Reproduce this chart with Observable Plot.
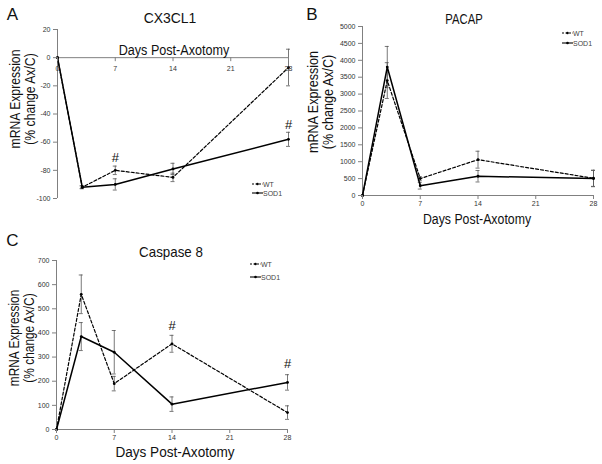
<!DOCTYPE html>
<html><head><meta charset="utf-8">
<script src="https://cdn.jsdelivr.net/npm/d3@7"></script>
<script src="https://cdn.jsdelivr.net/npm/@observablehq/plot@0.6"></script>
<style>
body{margin:0;background:#fff;}
#fig{position:relative;width:602px;height:464px;font-family:"Liberation Sans",Arial,sans-serif;overflow:hidden;background:#fff;}
.t{position:absolute;white-space:nowrap;line-height:1;color:#111;}
.lg{position:absolute;white-space:nowrap;line-height:1;font-size:7px;color:#444;display:flex;align-items:center;}
</style></head><body><div id="fig"></div>
<script>
// ---- shared ----
const days = [0, 3, 7, 14, 28];
const xTicks = [0, 7, 14, 21, 28];
const seriesNames = ["WT", "SOD1"];
const xTitle = "Days Post-Axotomy";
const yTitle1 = "mRNA Expression";
const yTitle2 = "(% change Ax/C)";

// ---- Panel A: CX3CL1 ----
const cxWT = [0, -92, -80, -85, -7];
const cxWTerr = [0, 1, 3, 3, 13];
const cxSOD = [0, -92, -90, -79, -58];
const cxSODerr = [0, 1, 4, 4, 5];
const cxYTicks = [20, 0, -20, -40, -60, -80, -100];
const cxHashDays = [7, 28];
const cxHashVals = [-71, -47.5];

// ---- Panel B: PACAP ----
const paWT = [0, 3400, 500, 1060, 510];
const paWTerr = [0, 530, 60, 250, 240];
const paSOD = [0, 3800, 290, 570, 500];
const paSODerr = [0, 610, 100, 170, 240];
const paYTicks = [0, 500, 1000, 1500, 2000, 2500, 3000, 3500, 4000, 4500, 5000];

// ---- Panel C: Caspase 8 ----
const caWT = [0, 560, 190, 355, 70];
const caWTerr = [0, 80, 30, 35, 28];
const caSOD = [0, 385, 320, 105, 195];
const caSODerr = [0, 58, 90, 30, 32];
const caYTicks = [0, 100, 200, 300, 400, 500, 600, 700];
const caHashDays = [14, 28];
const caHashVals = [431, 273];

const fig = document.getElementById("fig");
const AX = "#808080", TXT = "#333", EB = "#555";
const FONT = '"Liberation Sans", Arial, sans-serif';

function rows(vals, errs, name) {
  return days.map((d, i) => ({day: d, value: vals[i], err: errs[i], series: name}));
}
function hashRows(ds, vs) { return ds.map((d, i) => ({day: d, value: vs[i]})); }

function panel({wt, sod, hash, yDomain, yTicks, left, top, width, height, mt, mr, mb, ml, topAxis}) {
  const all = wt.concat(sod);
  const eb = all.filter(d => d.err > 0);
  const marks = [
    Plot.ruleX([0], {stroke: AX, strokeWidth: 1}),
    Plot.ruleY([0], {stroke: AX, strokeWidth: 1}),
    Plot.ruleX(eb, {x: "day", y1: d => d.value - d.err, y2: d => d.value + d.err, stroke: EB, strokeWidth: 0.8}),
    Plot.ruleY(eb, {y: d => d.value + d.err, x1: "day", x2: "day", insetLeft: -2, insetRight: -2, stroke: EB, strokeWidth: 0.8}),
    Plot.ruleY(eb, {y: d => d.value - d.err, x1: "day", x2: "day", insetLeft: -2, insetRight: -2, stroke: EB, strokeWidth: 0.8}),
    Plot.line(wt, {x: "day", y: "value", stroke: "#000", strokeWidth: 1.2, strokeDasharray: "3,2"}),
    Plot.line(sod, {x: "day", y: "value", stroke: "#000", strokeWidth: 1.5}),
    Plot.dot(all, {x: "day", y: "value", r: 1.4, fill: "#000"}),
    Plot.axisY({ticks: yTicks, tickSize: 4, tickPadding: 3, tickFormat: d => String(d), fontSize: 7, fill: TXT, stroke: AX, label: null})
  ];
  if (hash) marks.push(Plot.text(hash, {x: "day", y: "value", text: () => "#", fontSize: 13, fill: "#111"}));
  if (topAxis) {
    marks.push(Plot.ruleX(xTicks, {x: d => d, y1: () => 0, y2: () => 0, insetBottom: -4, stroke: AX}));
    marks.push(Plot.text(xTicks, {x: d => d, y: () => 0, dy: 11, text: d => String(d), fontSize: 7, fill: TXT}));
  } else {
    marks.push(Plot.axisX({ticks: xTicks, tickSize: 4, tickPadding: 2, tickFormat: d => String(d), fontSize: 7, fill: TXT, stroke: AX, label: null}));
  }
  const svg = Plot.plot({
    width, height, marginTop: mt, marginRight: mr, marginBottom: mb, marginLeft: ml,
    x: topAxis ? {domain: [0, 28], axis: null} : {domain: [0, 28]},
    y: {domain: yDomain},
    style: {fontFamily: FONT, background: "transparent", overflow: "visible"},
    marks
  });
  svg.style.position = "absolute";
  svg.style.left = left + "px";
  svg.style.top = top + "px";
  fig.appendChild(svg);
}

function text(str, x, y, size, opts = {}) {
  const d = document.createElement("div");
  d.className = "t";
  d.textContent = str;
  d.style.left = x + "px";
  d.style.top = y + "px";
  d.style.fontSize = size + "px";
  const sx = opts.sx ?? 1;
  d.style.transform = `translate(-50%,-50%)${opts.rot ? " rotate(-90deg)" : ""} scaleX(${sx})`;
  fig.appendChild(d);
}

function legend(x, y, gap) {
  seriesNames.forEach((s, i) => {
    const d = document.createElement("div");
    d.className = "lg";
    d.style.left = x + "px";
    d.style.top = (y + i * gap - 4) + "px";
    const dash = i === 0 ? 'stroke-dasharray="2,1.5"' : "";
    d.innerHTML = `<svg width="11" height="8" style="display:block"><line x1="0" y1="4" x2="11" y2="4" stroke="#000" stroke-width="1.1" ${dash}/><circle cx="5.5" cy="4" r="1.3" fill="#000"/></svg><span>${s}</span>`;
    fig.appendChild(d);
  });
}

// Panel A
panel({
  wt: rows(cxWT, cxWTerr, "WT"), sod: rows(cxSOD, cxSODerr, "SOD1"),
  hash: hashRows(cxHashDays, cxHashVals),
  yDomain: [-100, 20], yTicks: cxYTicks,
  left: 0, top: 0, width: 300, height: 215, mt: 29, mr: 12, mb: 17, ml: 57, topAxis: true
});
text("A", 12.5, 14, 17);
text("CX3CL1", 170, 17, 15, {sx: 0.93});
text(xTitle, 174, 50, 14, {sx: 0.9});
text(yTitle1, 15, 99, 14, {rot: true, sx: 0.87});
text(yTitle2, 29.5, 99, 14, {rot: true, sx: 0.87});
legend(252, 184, 9);

// Panel B
panel({
  wt: rows(paWT, paWTerr, "WT"), sod: rows(paSOD, paSODerr, "SOD1"),
  hash: null,
  yDomain: [0, 5000], yTicks: paYTicks,
  left: 300, top: 0, width: 302, height: 215, mt: 26, mr: 9, mb: 20, ml: 62, topAxis: false
});
text("B", 312, 14, 17);
text("PACAP", 464, 17.5, 15, {sx: 0.75});
text(xTitle, 477, 219, 14, {sx: 0.88});
text(yTitle1, 313, 102, 14, {rot: true, sx: 0.9});
text(yTitle2, 328, 102, 14, {rot: true, sx: 0.9});
legend(562, 33, 10);

// Panel C
panel({
  wt: rows(caWT, caWTerr, "WT"), sod: rows(caSOD, caSODerr, "SOD1"),
  hash: hashRows(caHashDays, caHashVals),
  yDomain: [0, 700], yTicks: caYTicks,
  left: 0, top: 230, width: 300, height: 230, mt: 30, mr: 13, mb: 31, ml: 56, topAxis: false
});
text("C", 12.5, 239.5, 17);
text("Caspase 8", 170.5, 251, 15, {sx: 0.89});
text(xTitle, 175, 452, 14, {sx: 0.97});
text(yTitle1, 14, 338, 14, {rot: true, sx: 0.85});
text(yTitle2, 28.5, 338, 14, {rot: true, sx: 0.85});
legend(250, 264, 13);
</script></body></html>
